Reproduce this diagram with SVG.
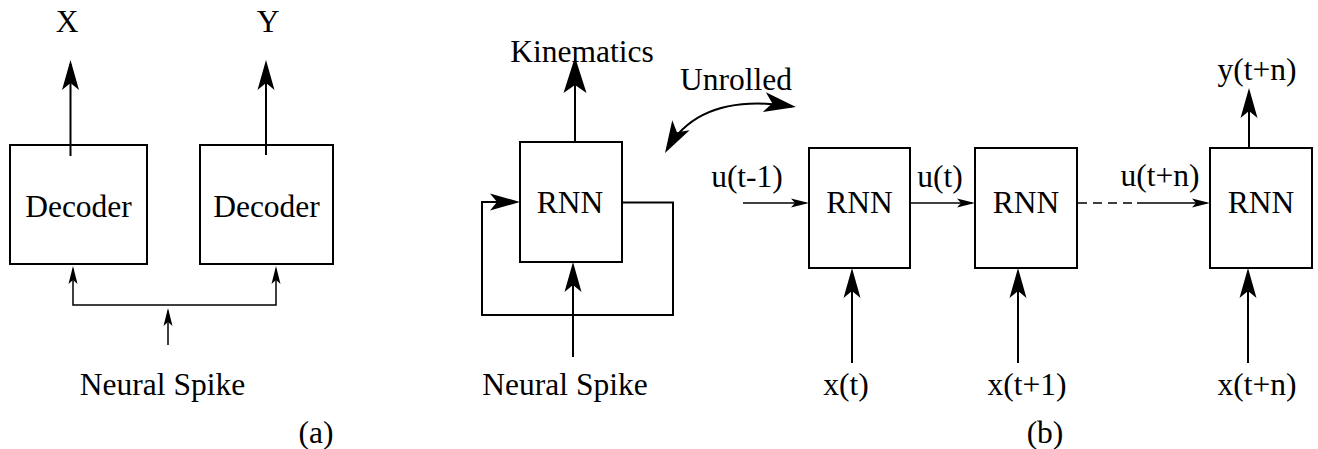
<svg xmlns="http://www.w3.org/2000/svg" width="1318" height="449" viewBox="0 0 1318 449">
<style>
.box{fill:#fff;stroke:#000;stroke-width:2}
.ln{fill:none;stroke:#000;stroke-width:2}
.th{fill:none;stroke:#000;stroke-width:1.5}
.dash{fill:none;stroke:#000;stroke-width:1.5;stroke-dasharray:9 6}
text{font-family:"Liberation Serif","Times New Roman",serif;font-size:31.5px;fill:#000;text-anchor:middle}
</style>
<defs>
<marker id="aBig" markerUnits="userSpaceOnUse" orient="auto" refX="0" refY="0" markerWidth="60" markerHeight="40" overflow="visible"><path d="M4,0 L-32,-11.5 L-24,0 L-32,11.5 Z" fill="#000"/></marker>
<marker id="aMed" markerUnits="userSpaceOnUse" orient="auto" refX="0" refY="0" markerWidth="60" markerHeight="40" overflow="visible"><path d="M4,0 L-26,-8.5 L-19,0 L-26,8.5 Z" fill="#000"/></marker>
<marker id="aSm" markerUnits="userSpaceOnUse" orient="auto-start-reverse" refX="0" refY="0" markerWidth="40" markerHeight="20" overflow="visible"><path d="M3,0 L-15,-4.5 L-11,0 L-15,4.5 Z" fill="#000"/></marker>
<marker id="aCurve" markerUnits="userSpaceOnUse" orient="auto-start-reverse" refX="0" refY="0" markerWidth="60" markerHeight="40" overflow="visible"><path d="M4,0 L-28,-10 L-20,0 L-28,10 Z" fill="#000"/></marker>
</defs>

<g id="nodes">
<g id="decoder-x"><rect class="box" x="10" y="145" width="137" height="119"/><text x="78.5" y="217">Decoder</text></g>
<g id="decoder-y"><rect class="box" x="200" y="145" width="133" height="119"/><text x="266.5" y="217">Decoder</text></g>
<g id="rnn-folded"><rect class="box" x="520" y="142" width="102" height="120"/><text x="570" y="213">RNN</text></g>
<g id="rnn-1"><rect class="box" x="809" y="148" width="101" height="120"/><text x="859.5" y="213">RNN</text></g>
<g id="rnn-2"><rect class="box" x="975" y="148" width="102" height="120"/><text x="1026" y="213">RNN</text></g>
<g id="rnn-n"><rect class="box" x="1210" y="148" width="102" height="120"/><text x="1261" y="213">RNN</text></g>
</g>

<g id="connectors">
<line class="ln" x1="70.5" y1="156" x2="70.5" y2="64" marker-end="url(#aMed)"/>
<line class="ln" x1="266" y1="155" x2="266" y2="64" marker-end="url(#aMed)"/>
<polyline class="th" points="73,269 73,305 276,305 276,269" marker-start="url(#aSm)" marker-end="url(#aSm)"/>
<line class="th" x1="168" y1="345" x2="168" y2="311" marker-end="url(#aSm)"/>

<line class="ln" x1="575" y1="142" x2="575" y2="61" marker-end="url(#aBig)"/>
<polyline class="ln" points="622,202.5 673,202.5 673,315 482,315 482,202 516,202" marker-end="url(#aMed)"/>
<line class="ln" x1="573" y1="357" x2="573" y2="266" marker-end="url(#aMed)"/>
<path class="ln" d="M667,149.5 Q700,92 792,106.4" stroke-width="2.5" marker-start="url(#aCurve)" marker-end="url(#aCurve)"/>

<line class="th" x1="743" y1="203" x2="806" y2="203" marker-end="url(#aSm)"/>
<line class="th" x1="910" y1="203" x2="972" y2="203" marker-end="url(#aSm)"/>
<line class="dash" x1="1078" y1="203" x2="1137" y2="203"/>
<line class="th" x1="1137" y1="203" x2="1207" y2="203" marker-end="url(#aSm)"/>
<line class="ln" x1="1249" y1="148" x2="1249" y2="92" marker-end="url(#aMed)"/>
<line class="ln" x1="852" y1="363" x2="852" y2="272" marker-end="url(#aMed)"/>
<line class="ln" x1="1018" y1="363" x2="1018" y2="272" marker-end="url(#aMed)"/>
<line class="ln" x1="1248" y1="363" x2="1248" y2="272" marker-end="url(#aMed)"/>
</g>

<g id="labels">
<text x="67" y="32">X</text>
<text x="268" y="32">Y</text>
<text x="162.5" y="395">Neural Spike</text>
<text x="316" y="443">(a)</text>
<text x="582" y="62">Kinematics</text>
<text x="736" y="90">Unrolled</text>
<text x="565" y="395">Neural Spike</text>
<text x="747" y="187">u(t-1)</text>
<text x="940" y="187">u(t)</text>
<text x="1160" y="186">u(t+n)</text>
<text x="1257" y="80">y(t+n)</text>
<text x="846" y="395">x(t)</text>
<text x="1027" y="395">x(t+1)</text>
<text x="1257" y="395">x(t+n)</text>
<text x="1045" y="443">(b)</text>
</g>
</svg>
